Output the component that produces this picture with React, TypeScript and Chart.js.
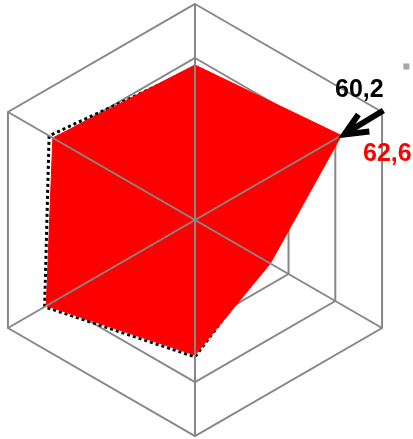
import React, { useEffect, useRef } from "react";
import { Chart, registerables } from "chart.js";

Chart.register(...registerables);

const categories = ["A", "B", "C", "D", "E", "F"];
const redValues = [57.4, 62.6, 32.2, 50.0, 63.6, 60.8];
const dottedValues = [56.2, 60.2, 30.5, 50.7, 64.3, 62.4];
const scaleMin = 0;
const scaleMax = 80;
const scaleStep = 20;
const calloutIndex = 1;
const redLabel = "62,6";
const dottedLabel = "60,2";

const GRID = "#878787";

const overlayPlugin = {
  id: "overlay",
  afterDatasetsDraw(chart: any) {
    const scale = chart.scales.r;
    const ctx = chart.ctx;
    ctx.save();
    ctx.strokeStyle = GRID;
    ctx.lineWidth = 2;
    for (let i = 0; i < categories.length; i++) {
      const p = scale.getPointPositionForValue(i, scaleMax);
      ctx.beginPath();
      ctx.moveTo(scale.xCenter, scale.yCenter);
      ctx.lineTo(p.x, p.y);
      ctx.stroke();
    }
    const tip = scale.getPointPositionForValue(calloutIndex, redValues[calloutIndex]);
    ctx.strokeStyle = "#000";
    ctx.lineWidth = 6;
    ctx.lineCap = "butt";
    ctx.lineJoin = "miter";
    ctx.beginPath();
    ctx.moveTo(tip.x + 42, tip.y - 25);
    ctx.lineTo(tip.x + 4, tip.y - 2);
    ctx.stroke();
    ctx.beginPath();
    ctx.moveTo(tip.x + 17, tip.y - 21);
    ctx.lineTo(tip.x + 3, tip.y - 1);
    ctx.lineTo(tip.x + 28, tip.y - 4);
    ctx.stroke();
    ctx.font = "bold 25px 'Liberation Sans', Arial, sans-serif";
    ctx.textAlign = "center";
    ctx.textBaseline = "alphabetic";
    ctx.fillStyle = "#000";
    ctx.fillText(dottedLabel, tip.x + 18, tip.y - 38);
    ctx.fillStyle = "#ff0000";
    ctx.fillText(redLabel, tip.x + 46, tip.y + 26);
    ctx.fillStyle = "#a6a6a6";
    ctx.fillRect(tip.x + 62, tip.y - 72, 6, 6);
    ctx.restore();
  },
};

export default function App() {
  const ref = useRef<HTMLCanvasElement | null>(null);
  useEffect(() => {
    if (!ref.current) return;
    const chart = new Chart(ref.current, {
      type: "radar",
      data: {
        labels: categories,
        datasets: [
          {
            label: "red",
            data: redValues,
            backgroundColor: "#ff0000",
            borderColor: "#ff0000",
            borderWidth: 1,
            fill: true,
            pointRadius: 0,
            pointHoverRadius: 0,
          },
          {
            label: "dotted",
            data: dottedValues,
            backgroundColor: "rgba(0,0,0,0)",
            borderColor: "#000",
            borderWidth: 3,
            borderDash: [3, 3],
            borderCapStyle: "butt",
            fill: false,
            pointRadius: 0,
            pointHoverRadius: 0,
          },
        ],
      },
      options: {
        responsive: false,
        animation: false,
        layout: { padding: { top: 4, bottom: 3, left: 0, right: 0 } },
        plugins: { legend: { display: false }, tooltip: { enabled: false } },
        elements: { line: { tension: 0 } },
        scales: {
          r: {
            min: scaleMin,
            max: scaleMax,
            ticks: { display: false, stepSize: scaleStep },
            pointLabels: { display: false },
            angleLines: { display: false },
            grid: {
              circular: false,
              lineWidth: 2,
              color: (c: any) => (c.index === 1 ? "rgba(0,0,0,0)" : GRID),
            },
          },
        },
      },
      plugins: [overlayPlugin],
    });
    return () => chart.destroy();
  }, []);
  return (
    <div style={{ position: "fixed", left: 0, top: 0, width: 413, height: 439, overflow: "hidden", background: "#fff" }}>
      <canvas ref={ref} width={434} height={439} style={{ position: "absolute", left: -22, top: 0 }} />
    </div>
  );
}
